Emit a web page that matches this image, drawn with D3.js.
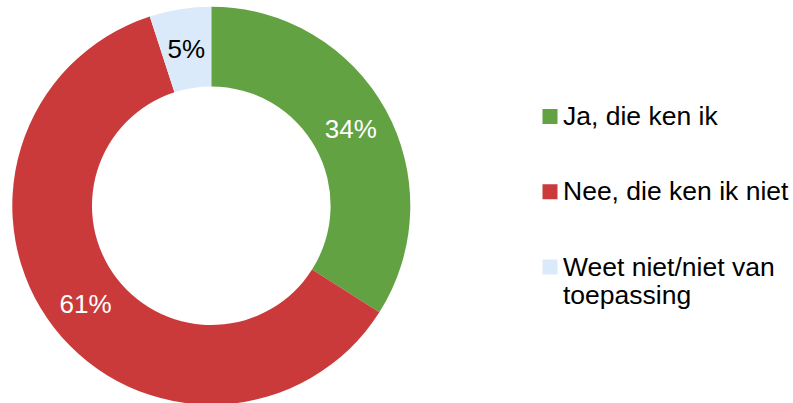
<!DOCTYPE html>
<html><head><meta charset="utf-8">
<script src="https://cdn.jsdelivr.net/npm/d3@7"></script>
<style>body{margin:0;background:#fff}svg{display:block}text{font-family:"Liberation Sans",Arial,sans-serif}</style>
</head><body><svg id="c" width="793" height="403"></svg>
<script>
const categories = ["Ja, die ken ik", "Nee, die ken ik niet", "Weet niet/niet van toepassing"];
const values = [34, 61, 5];
const labels = ["34%", "61%", "5%"];
const colors = ["#63a243", "#cb3a3a", "#dbeafa"];
const labelColors = ["#ffffff", "#ffffff", "#000000"];
const legendLines = [["Ja, die ken ik"], ["Nee, die ken ik niet"], ["Weet niet/niet van", "toepassing"]];

const svg = d3.select("#c");
const cx = 211.3, cy = 205.7, R = 199, r = 119.3;
const pie = d3.pie().sort(null).value(d => d)(values);
const arc = d3.arc().innerRadius(r).outerRadius(R);
const g = svg.append("g").attr("transform", `translate(${cx},${cy})`);
g.selectAll("path").data(pie).join("path").attr("d", arc).attr("fill", (d, i) => colors[i]);
const lr = (R + r) / 2;
g.selectAll("text").data(pie).join("text")
  .attr("transform", d => { const c = d3.arc().innerRadius(lr).outerRadius(lr).centroid(d); return `translate(${c[0]},${c[1]})`; })
  .attr("text-anchor", "middle").attr("dy", "0.36em")
  .attr("font-size", 26).attr("fill", (d, i) => labelColors[i])
  .text((d, i) => labels[i]);

const leg = svg.append("g");
const ly = d3.scalePoint().domain(categories).range([109, 259.5]);
categories.forEach((c, i) => {
  const y = ly(c);
  leg.append("rect").attr("x", 542.5).attr("y", y).attr("width", 15).attr("height", 15).attr("fill", colors[i]);
  const t = leg.append("text").attr("x", 563).attr("y", y + 16).attr("font-size", 26.5).attr("fill", "#000");
  legendLines[i].forEach((ln, j) => t.append("tspan").attr("x", 563).attr("dy", j ? 28.5 : 0).text(ln));
});
</script></body></html>
